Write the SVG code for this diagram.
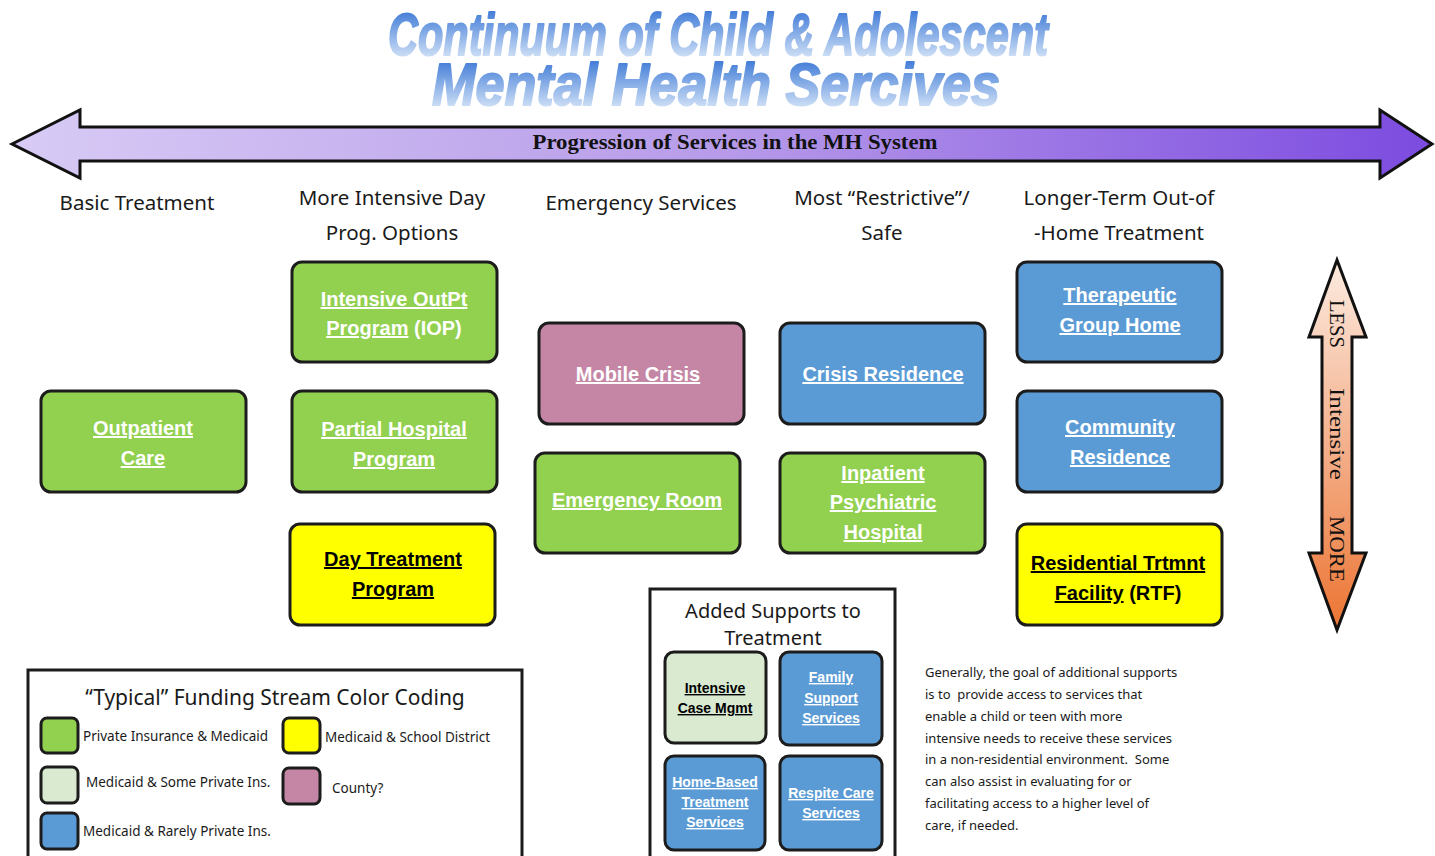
<svg xmlns="http://www.w3.org/2000/svg" width="1435" height="856" viewBox="0 0 1435 856">
<defs>
<linearGradient id="gTitle" gradientUnits="userSpaceOnUse" x1="0" y1="9" x2="0" y2="59" spreadMethod="repeat">
<stop offset="0" stop-color="#3d79d6"/>
<stop offset="1" stop-color="#d3e3f7"/>
</linearGradient>
<linearGradient id="gH" x1="0" y1="0" x2="1" y2="0">
<stop offset="0" stop-color="#d8cbf5"/>
<stop offset="0.5" stop-color="#b79be9"/>
<stop offset="1" stop-color="#7c4be0"/>
</linearGradient>
<linearGradient id="gV" x1="0" y1="0" x2="0" y2="1">
<stop offset="0" stop-color="#fcebe0"/>
<stop offset="0.5" stop-color="#f4b08c"/>
<stop offset="1" stop-color="#ec7432"/>
</linearGradient>
</defs>
<style>
.title{font-family:"Liberation Sans",Arial,sans-serif;font-weight:bold;font-style:italic;font-size:60px;fill:url(#gTitle);stroke:url(#gTitle);stroke-width:2;stroke-linejoin:round}
.hdr{font-family:"Noto Sans","Open Sans",sans-serif;font-size:20.5px;fill:#1a1a1a;text-anchor:middle}
.box{stroke:#1c1c1c;stroke-width:3}
.g{fill:#92d050}.b{fill:#5b9bd5}.y{fill:#ffff00}.m{fill:#c486a4}.lg{fill:#d9ead0}
.bt{font-family:"Liberation Sans",Arial,sans-serif;font-weight:bold;font-size:20px;text-anchor:middle;fill:#ffffff}
.st{font-family:"Liberation Sans",Arial,sans-serif;font-weight:bold;font-size:14px;text-anchor:middle;fill:#ffffff}
.bk{fill:#000000}
.u{text-decoration:underline}
.cal{font-family:"Noto Sans","Open Sans",sans-serif;fill:#1a1a1a}
.serif{font-family:"Liberation Serif","Times New Roman",serif;fill:#111}
.vt{font-family:"Liberation Serif","Times New Roman",serif;fill:#111;font-size:22px}
</style>

<g id="title">
<text class="title"><tspan x="388" y="55" textLength="660" lengthAdjust="spacingAndGlyphs">Continuum of Child &amp; Adolescent</tspan><tspan x="432" y="105" textLength="568" lengthAdjust="spacingAndGlyphs">Mental Health Sercives</tspan></text>
</g>

<g id="progression-arrow">
<path d="M12,144 L80,110 L80,127 L1380,127 L1380,110 L1432,144 L1380,178 L1380,161 L80,161 L80,178 Z" fill="url(#gH)" stroke="#111" stroke-width="3" stroke-linejoin="miter"/>
<text class="serif" x="735" y="149" font-size="20" font-weight="bold" text-anchor="middle" textLength="405" lengthAdjust="spacingAndGlyphs">Progression of Services in the MH System</text>
</g>

<g id="headers">
<text class="hdr" x="137" y="210">Basic Treatment</text>
<text class="hdr" x="392" y="205">More Intensive Day</text>
<text class="hdr" x="392" y="240">Prog. Options</text>
<text class="hdr" x="641" y="210">Emergency Services</text>
<text class="hdr" x="882" y="205">Most “Restrictive”/</text>
<text class="hdr" x="882" y="240">Safe</text>
<text class="hdr" x="1119" y="205">Longer-Term Out-of</text>
<text class="hdr" x="1119" y="240">-Home Treatment</text>
</g>

<g id="connectors"></g>

<g id="outpatient-care">
<rect class="box g" x="41" y="391" width="205" height="101" rx="10"/>
<text class="bt"><tspan class="u" x="143" y="435">Outpatient</tspan><tspan class="u" x="143" y="465">Care</tspan></text>
</g>
<g id="iop">
<rect class="box g" x="292" y="262" width="205" height="100" rx="10"/>
<text class="bt"><tspan class="u" x="394" y="306">Intensive OutPt</tspan><tspan x="394" y="335"><tspan class="u">Program</tspan> (IOP)</tspan></text>
</g>
<g id="partial-hospital">
<rect class="box g" x="292" y="391" width="205" height="101" rx="10"/>
<text class="bt"><tspan class="u" x="394" y="436">Partial Hospital</tspan><tspan class="u" x="394" y="466">Program</tspan></text>
</g>
<g id="day-treatment">
<rect class="box y" x="290" y="524" width="205" height="101" rx="10"/>
<text class="bt bk"><tspan class="u" x="393" y="566">Day Treatment</tspan><tspan class="u" x="393" y="596">Program</tspan></text>
</g>
<g id="mobile-crisis">
<rect class="box m" x="539" y="323" width="205" height="101" rx="10"/>
<text class="bt"><tspan class="u" x="638" y="381">Mobile Crisis</tspan></text>
</g>
<g id="emergency-room">
<rect class="box g" x="535" y="453" width="205" height="100" rx="10"/>
<text class="bt"><tspan class="u" x="637" y="507">Emergency Room</tspan></text>
</g>
<g id="crisis-residence">
<rect class="box b" x="780" y="323" width="205" height="101" rx="10"/>
<text class="bt"><tspan class="u" x="883" y="381">Crisis Residence</tspan></text>
</g>
<g id="inpatient">
<rect class="box g" x="780" y="453" width="205" height="100" rx="10"/>
<text class="bt"><tspan class="u" x="883" y="480">Inpatient</tspan><tspan class="u" x="883" y="509">Psychiatric</tspan><tspan class="u" x="883" y="539">Hospital</tspan></text>
</g>
<g id="group-home">
<rect class="box b" x="1017" y="262" width="205" height="100" rx="10"/>
<text class="bt"><tspan class="u" x="1120" y="302">Therapeutic</tspan><tspan class="u" x="1120" y="332">Group Home</tspan></text>
</g>
<g id="community-residence">
<rect class="box b" x="1017" y="391" width="205" height="101" rx="10"/>
<text class="bt"><tspan class="u" x="1120" y="434">Community</tspan><tspan class="u" x="1120" y="464">Residence</tspan></text>
</g>
<g id="rtf">
<rect class="box y" x="1017" y="524" width="205" height="101" rx="10"/>
<text class="bt bk"><tspan class="u" x="1118" y="570">Residential Trtmnt</tspan><tspan x="1118" y="600"><tspan class="u">Facility</tspan> (RTF)</tspan></text>
</g>

<g id="intensity-arrow">
<path d="M1337,260 L1366,337 L1352,337 L1352,553 L1366,553 L1337,630 L1309,553 L1322,553 L1322,337 L1309,337 Z" fill="url(#gV)" stroke="#111" stroke-width="3"/>
<text class="vt" transform="translate(1330,300) rotate(90)" textLength="48" lengthAdjust="spacingAndGlyphs">LESS</text>
<text class="vt" transform="translate(1330,388) rotate(90)" textLength="92" lengthAdjust="spacingAndGlyphs">Intensive</text>
<text class="vt" transform="translate(1330,516) rotate(90)" textLength="66" lengthAdjust="spacingAndGlyphs">MORE</text>
</g>

<g id="legend">
<rect x="28" y="670" width="494" height="200" fill="#fff" stroke="#1c1c1c" stroke-width="3"/>
<text class="cal" x="275" y="705" font-size="21" text-anchor="middle">“Typical” Funding Stream Color Coding</text>
<rect class="box g" x="41" y="718" width="37" height="35" rx="6"/>
<text class="cal" x="83" y="741" font-size="13.5">Private Insurance &amp; Medicaid</text>
<rect class="box lg" x="41" y="767" width="37" height="36" rx="6"/>
<text class="cal" x="86" y="787" font-size="13.5">Medicaid &amp; Some Private Ins.</text>
<rect class="box b" x="41" y="813" width="37" height="36" rx="6"/>
<text class="cal" x="83" y="836" font-size="13.5">Medicaid &amp; Rarely Private Ins.</text>
<rect class="box y" x="283" y="718" width="37" height="35" rx="6"/>
<text class="cal" x="325" y="742" font-size="13.5">Medicaid &amp; School District</text>
<rect class="box m" x="283" y="768" width="37" height="36" rx="6"/>
<text class="cal" x="332" y="793" font-size="13.5">County?</text>
</g>

<g id="added-supports">
<rect x="650" y="589" width="245" height="280" fill="#fff" stroke="#1c1c1c" stroke-width="3"/>
<text class="cal" x="773" y="618" font-size="20" text-anchor="middle">Added Supports to</text>
<text class="cal" x="773" y="645" font-size="20" text-anchor="middle">Treatment</text>
</g>
<g id="case-mgmt">
<rect class="box lg" x="665" y="652" width="101" height="91" rx="9"/>
<text class="st" style="fill:#000"><tspan class="u" x="715" y="693">Intensive</tspan><tspan class="u" x="715" y="713">Case Mgmt</tspan></text>
</g>
<g id="family-support">
<rect class="box b" x="780" y="652" width="102" height="93" rx="9"/>
<text class="st"><tspan class="u" x="831" y="682">Family</tspan><tspan class="u" x="831" y="703">Support</tspan><tspan class="u" x="831" y="723">Services</tspan></text>
</g>
<g id="home-based">
<rect class="box b" x="665" y="756" width="100" height="94" rx="9"/>
<text class="st"><tspan class="u" x="715" y="787">Home-Based</tspan><tspan class="u" x="715" y="807">Treatment</tspan><tspan class="u" x="715" y="827">Services</tspan></text>
</g>
<g id="respite">
<rect class="box b" x="780" y="756" width="102" height="94" rx="9"/>
<text class="st"><tspan class="u" x="831" y="798">Respite Care</tspan><tspan class="u" x="831" y="818">Services</tspan></text>
</g>

<g id="note">
<text class="cal" font-size="13">
<tspan x="925" y="677">Generally, the goal of additional supports</tspan>
<tspan x="925" y="699">is to&#160; provide access to services that</tspan>
<tspan x="925" y="721">enable a child or teen with more</tspan>
<tspan x="925" y="743">intensive needs to receive these services</tspan>
<tspan x="925" y="764">in a non-residential environment.&#160; Some</tspan>
<tspan x="925" y="786">can also assist in evaluating for or</tspan>
<tspan x="925" y="808">facilitating access to a higher level of</tspan>
<tspan x="925" y="830">care, if needed.</tspan>
</text>
</g>
</svg>
